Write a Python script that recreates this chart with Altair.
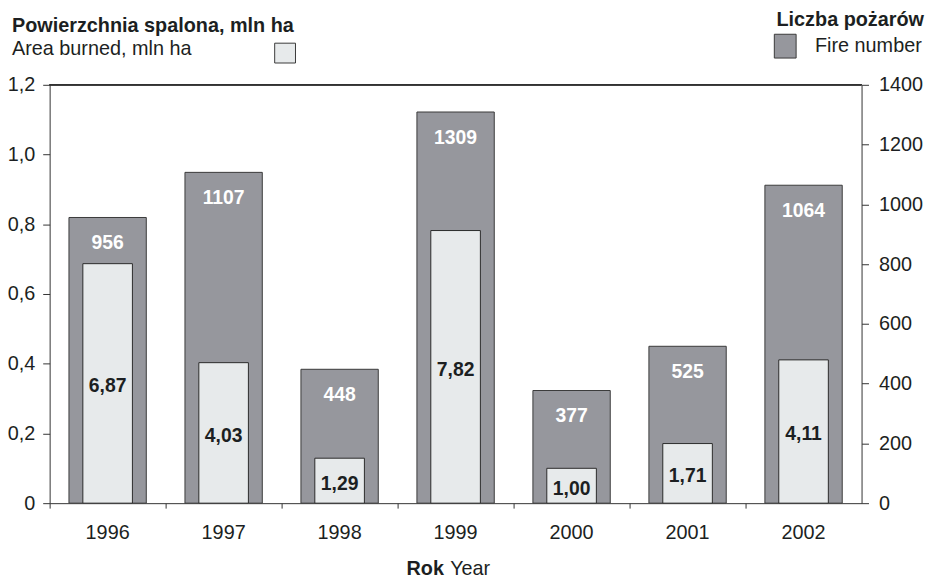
import altair as alt
import pandas as pd

years = ["1996", "1997", "1998", "1999", "2000", "2001", "2002"]
fire_number = [956, 1107, 448, 1309, 377, 525, 1064]
area_burned = [0.687, 0.403, 0.129, 0.782, 0.100, 0.171, 0.411]  # mln ha
area_labels = ["6,87", "4,03", "1,29", "7,82", "1,00", "1,71", "4,11"]

df = pd.DataFrame({
    "year": years,
    "fires": fire_number,
    "area": area_burned,
    "area_label": area_labels,
    "area_mid": [v / 2 for v in area_burned],
})

W, H = 819, 422
FONT = "Liberation Sans"
DARK = "#96979d"
LIGHT = "#e7eaeb"
INK = "#1c1f22"
FS = 20

x = alt.X("year:N", title=None, sort=years,
          scale=alt.Scale(paddingInner=0, paddingOuter=0),
          axis=alt.Axis(labelAngle=0, bandPosition=0, tickSize=5, labelPadding=15,
                        labelFontSize=FS, labelColor=INK, domainColor="#333",
                        tickColor="#333", labelFont=FONT))

axR = alt.Axis(orient="right", values=list(range(0, 1401, 200)), format="d",
               grid=False, tickSize=7, labelPadding=10, labelFontSize=FS,
               labelColor=INK, domainColor="#333", tickColor="#333",
               labelFont=FONT, title=None)
scR = alt.Scale(domain=[0, 1400], nice=False)

axL = alt.Axis(orient="left", values=[0, 0.2, 0.4, 0.6, 0.8, 1.0, 1.2],
               labelExpr="datum.value == 0 ? '0' : replace(format(datum.value, '.1f'), '.', ',')",
               grid=False, tickSize=7, labelPadding=8, labelFontSize=FS,
               labelColor=INK, domainColor="#333", tickColor="#333",
               labelFont=FONT, title=None)
scL = alt.Scale(domain=[0, 1.2], nice=False)

base = alt.Chart(df)

dark_bars = base.mark_bar(size=78, color=DARK, stroke="#3a3a3a", strokeWidth=1).encode(
    x=x, y=alt.Y("fires:Q", scale=scR, axis=axR))
dark_text = base.mark_text(font=FONT, fontSize=19.5, fontWeight="bold", color="white",
                           baseline="middle", dy=26).encode(
    x=x, y=alt.Y("fires:Q", scale=scR, axis=axR), text="fires:Q")
right_layer = alt.layer(dark_bars, dark_text)

light_bars = base.mark_bar(size=50, color=LIGHT, stroke="#2a2a2a", strokeWidth=1).encode(
    x=x, y=alt.Y("area:Q", scale=scL, axis=axL))
light_text = base.mark_text(font=FONT, fontSize=19.5, fontWeight="bold", color=INK,
                            baseline="middle", dy=3).encode(
    x=x, y=alt.Y("area_mid:Q", scale=scL, axis=axL), text="area_label:N")
top_rule = base.mark_rule(color="#333", strokeWidth=1).encode(
    x=alt.value(0), x2=alt.value(W), y=alt.value(0))

ann = pd.DataFrame({"d": [0]})
A = alt.Chart(ann)

def label(txt, px, py, bold=False, align="left", size=FS):
    return A.mark_text(text=txt, font=FONT, fontSize=size, fontWeight="bold" if bold else "normal",
                       color=INK, align=align, baseline="alphabetic").encode(
        x=alt.value(px), y=alt.value(py))

def box(x0, x1, y0, y1, fill):
    return A.mark_rect(fill=fill, stroke="#3a3a3a", strokeWidth=1).encode(
        x=alt.value(x0), x2=alt.value(x1), y=alt.value(y0), y2=alt.value(y1))

left_layer = alt.layer(light_bars, light_text, top_rule,
    label("Powierzchnia spalona, mln ha", -38, -53, bold=True),
    label("Area burned, mln ha", -38, -30),
    box(227, 248, -42, -22, LIGHT),
    label("Liczba pożarów", 882, -59, bold=True, align="right"),
    box(731, 753, -51, -27, DARK),
    label("Fire number", 772, -33),
    label("Rok", 360, 494, bold=True),
    label("Year", 404, 494),
)

chart = alt.layer(right_layer, left_layer).resolve_scale(
    y="independent"
).properties(
    width=W, height=H,
    autosize=alt.AutoSizeParams(type="none"),
    padding={"left": 42, "top": 75, "right": 64, "bottom": 73},
).configure_view(stroke=None).configure_axis(domainWidth=1)

chart.save("out.html", embed_options={"renderer": "svg", "actions": False})
